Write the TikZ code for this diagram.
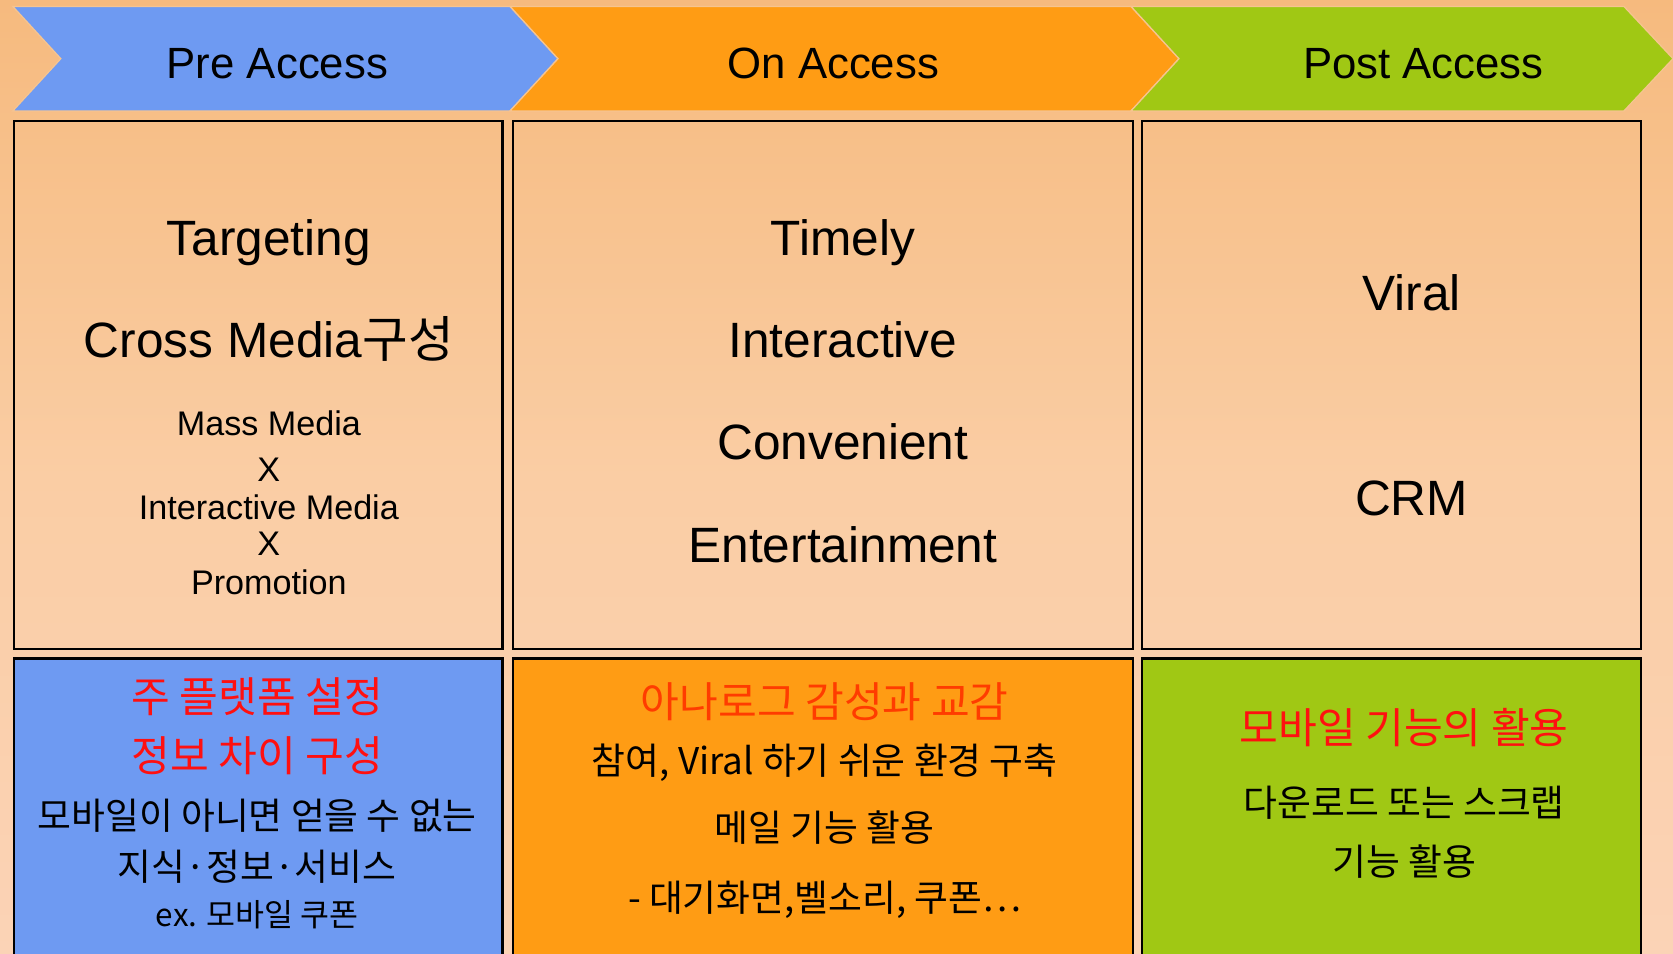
\documentclass[tikz,border=0pt]{standalone}
\usepackage{fontspec}
\setmainfont{Liberation Sans}
\newfontfamily\kr{Noto Sans CJK KR}
\definecolor{bgtop}{HTML}{F6BA7E}
\definecolor{bgmid}{HTML}{FACDA4}
\definecolor{bgbot}{HTML}{FBD3B6}
\definecolor{chevline}{HTML}{F6C490}
\definecolor{cblue}{HTML}{6E9AF2}
\definecolor{corange}{HTML}{FF9C14}
\definecolor{cgreen}{HTML}{A0C814}
\definecolor{kred}{HTML}{FF1010}
\definecolor{kored}{HTML}{FF3C00}
\begin{document}
\begin{tikzpicture}[x=1pt,y=-1pt,
  chev/.style={draw=chevline, line width=1.2pt},
  cell/.style={draw=black, line width=2.2pt, anchor=north west, inner sep=0pt},
  hd/.style={anchor=base, font=\fontsize{41}{41}\selectfont},
  big/.style={anchor=base, font=\fontsize{46.5}{46.5}\selectfont},
  mid/.style={anchor=base, font=\fontsize{32}{32}\selectfont},
  krh/.style={anchor=base, font=\kr\fontsize{39.5}{39.5}\selectfont, text=kred},
  krb/.style={anchor=base, font=\kr\fontsize{34.5}{34.5}\selectfont},
  krs/.style={anchor=base, font=\kr\fontsize{29.5}{29.5}\selectfont}]
\useasboundingbox (0,0) rectangle (1568,894);
\clip (0,0) rectangle (1568,894);
\shade[top color=bgtop, bottom color=bgbot, middle color=bgmid] (0,0) rectangle (1568,894);
% chevrons
\path[chev, fill=cblue] (12,6) -- (478,6) -- (523,55) -- (478,104) -- (12,104) -- (57,55) -- cycle;
\path[chev, fill=corange] (478,6) -- (1060,6) -- (1105,55) -- (1060,104) -- (478,104) -- (523,55) -- cycle;
\path[chev, fill=cgreen] (1060,6) -- (1522,6) -- (1568,55) -- (1522,104) -- (1060,104) -- (1105,55) -- cycle;
\node[hd] (h1) at (260,74) {Pre Access};
\node[hd] (h2) at (781,74) {On Access};
\node[hd] (h3) at (1334,74) {Post Access};
% top cells
\node[cell, minimum width=458pt, minimum height=495pt] (t1) at (12,112) {};
\node[cell, minimum width=581pt, minimum height=495pt] (t2) at (480,112) {};
\node[cell, minimum width=468pt, minimum height=495pt] (t3) at (1069,112) {};
% bottom cells
\node[cell, fill=cblue, minimum width=458pt, minimum height=300pt] (b1) at (12,616) {};
\node[cell, fill=corange, minimum width=581pt, minimum height=300pt] (b2) at (480,616) {};
\node[cell, fill=cgreen, minimum width=468pt, minimum height=300pt] (b3) at (1069,616) {};
% top cell texts
\node[big] (a1) at (252,239) {Targeting};
\node[big] (a2) at (252,335) {Cross Media{\kr 구성}};
\node[mid] (a3) at (252,408) {Mass Media};
\node[mid] (a4) at (252,451) {X};
\node[mid] (a5) at (252,487) {Interactive Media};
\node[mid] (a6) at (252,521) {X};
\node[mid] (a7) at (252,557) {Promotion};
\node[big] (c1) at (790,239) {Timely};
\node[big] (c2) at (790,335) {Interactive};
\node[big] (c3) at (790,431) {Convenient};
\node[big] (c4) at (790,527) {Entertainment};
\node[big] (d1) at (1323,291) {Viral};
\node[big] (d2) at (1323,483) {CRM};
% bottom cell texts
\node[krh] (e1) at (241,668) {주 플랫폼 설정};
\node[krh] (e2) at (241,723) {정보 차이 구성};
\node[krb] (e3) at (241,777) {모바일이 아니면 얻을 수 없는};
\node[krb] (e4) at (241,825) {지식·정보·서비스};
\node[krs] (e5) at (241,868) {ex. 모바일 쿠폰};
\node[krh, text=kored] (f1) at (773,672) {아나로그 감성과 교감};
\node[krb] (f2) at (773,726) {참여, Viral 하기 쉬운 환경 구축};
\node[krb] (f3) at (773,789) {메일 기능 활용};
\node[krb] (f4) at (773,854) {- 대기화면,벨소리, 쿠폰…};
\node[krh] (g1) at (1316,697) {모바일 기능의 활용};
\node[krb] (g2) at (1316,765) {다운로드 또는 스크랩};
\node[krb] (g3) at (1316,821) {기능 활용};
\end{tikzpicture}
\end{document}
